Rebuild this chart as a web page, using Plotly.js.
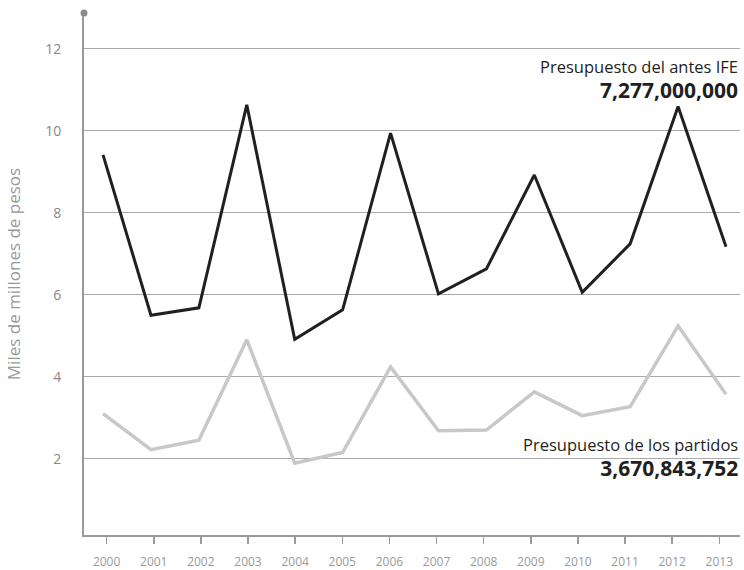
<!DOCTYPE html>
<html>
<head>
<meta charset="utf-8">
<script src="https://cdn.plot.ly/plotly-3.0.1.min.js"></script>
<style>html,body{margin:0;padding:0;background:#fff;}#chart{width:744px;height:570px;}</style>
</head>
<body>
<div id="chart"></div>
<script>
var years = [2000,2001,2002,2003,2004,2005,2006,2007,2008,2009,2010,2011,2012,2013];
var presupuestoIFE = [9.41,5.50,5.68,10.63,4.91,5.63,9.94,6.02,6.63,8.92,6.06,7.24,10.59,7.17];
var presupuestoPartidos = [3.10,2.22,2.45,4.90,1.89,2.15,4.24,2.68,2.70,3.63,3.05,3.27,5.24,3.57];
var yTicks = [2,4,6,8,10,12];
var labelIFE = "Presupuesto del antes IFE";
var valueIFE = "7,277,000,000";
var labelPartidos = "Presupuesto de los partidos";
var valuePartidos = "3,670,843,752";
var yTitle = "Miles de millones de pesos";

var FONT = "Open Sans, Noto Sans, sans-serif";

function twoLine(label, value) {
  return '<span style="font-size:16.5px">' + label + '</span><br>' +
         '<span style="font-size:21px"><b>' + value + '</b></span>';
}

var traces = [
  // invisible trace so the visible year axis (x) gets its own subplot
  {x: years, y: presupuestoIFE, xaxis: 'x', yaxis: 'y', type: 'scatter', mode: 'lines',
   line: {color: 'rgba(0,0,0,0)', width: 0}, hoverinfo: 'skip'},
  {x: years, y: presupuestoPartidos, xaxis: 'x2', yaxis: 'y', type: 'scatter', mode: 'lines',
   line: {color: '#c8c8c8', width: 3.5}, hoverinfo: 'skip'},
  {x: years, y: presupuestoIFE, xaxis: 'x2', yaxis: 'y', type: 'scatter', mode: 'lines',
   line: {color: '#231f20', width: 3}, hoverinfo: 'skip'}
];

var layout = {
  width: 744, height: 570,
  margin: {l: 84, r: 4, t: 13, b: 35},
  paper_bgcolor: '#fff', plot_bgcolor: '#fff',
  showlegend: false,
  font: {family: FONT, color: '#999'},
  xaxis: {
    range: [1999.52, 2013.44],
    tickmode: 'array', tickvals: years, ticktext: years.map(String),
    showgrid: false, zeroline: false,
    showline: true, linecolor: '#9a9a9a', linewidth: 2,
    ticks: 'outside', ticklen: 7, tickwidth: 1.5, tickcolor: '#9a9a9a',
    ticklabelstandoff: 8,
    tickfont: {size: 12, color: '#9a9a9a', family: FONT}
  },
  xaxis2: {
    overlaying: 'x', range: [1999.603, 2013.292], visible: false
  },
  yaxis: {
    range: [0.14, 12.87],
    tickmode: 'array', tickvals: yTicks, ticktext: yTicks.map(String),
    showgrid: true, gridcolor: '#aaaaaa', gridwidth: 1.2,
    zeroline: false,
    showline: true, linecolor: '#9a9a9a', linewidth: 2,
    ticks: '', ticklabelstandoff: 18,
    tickfont: {size: 14, color: '#888', family: FONT},
    title: {text: yTitle, font: {size: 17, color: '#999', family: FONT}, standoff: 20}
  },
  shapes: [
    {type: 'circle', xref: 'paper', yref: 'paper', xsizemode: 'pixel', ysizemode: 'pixel',
     xanchor: 0, yanchor: 1, x0: -3.5, x1: 3.5, y0: -3.5, y1: 3.5,
     fillcolor: '#8a8a8a', line: {width: 0}}
  ],
  annotations: [
    {xref: 'paper', yref: 'y', x: 1, y: 11.24, xanchor: 'right', yanchor: 'middle', align: 'right',
     showarrow: false, text: twoLine(labelIFE, valueIFE),
     font: {size: 19, color: '#231f20', family: FONT}},
    {xref: 'paper', yref: 'y', x: 1, y: 2.03, xanchor: 'right', yanchor: 'middle', align: 'right',
     showarrow: false, text: twoLine(labelPartidos, valuePartidos),
     font: {size: 19, color: '#231f20', family: FONT}}
  ]
};

Plotly.newPlot('chart', traces, layout, {staticPlot: true, displayModeBar: false});
</script>
</body>
</html>
